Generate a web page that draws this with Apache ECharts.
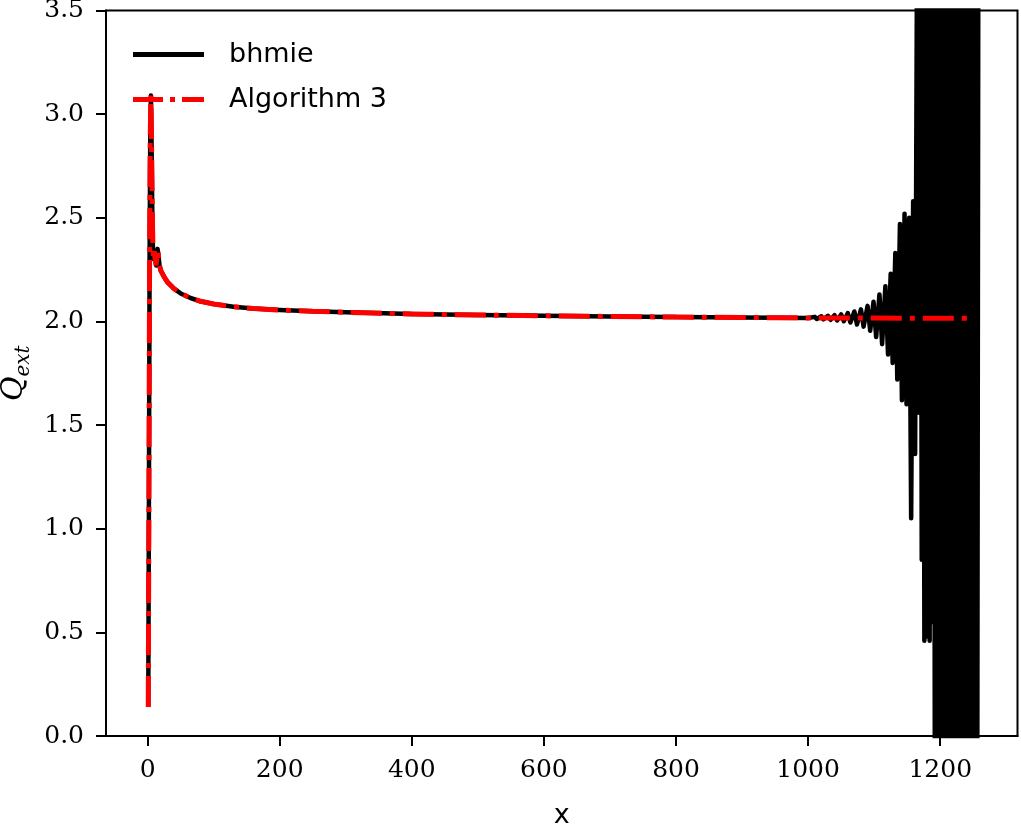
<!DOCTYPE html>
<html lang="en">

<head>
    <meta charset="UTF-8">
    <title>Q_ext</title>
    <style>
        html, body { margin: 0; padding: 0; background: #fff; }
        #main { width: 1021px; height: 824px; }
    </style>
</head>

<body>
    <div id="main"></div>
    <script src="https://cdn.jsdelivr.net/npm/echarts@6/dist/echarts.min.js"></script>
    <script>
        // bhmie: smooth part, then the unstable oscillations past x ~ 1000
        const bhmieX = [1, 2, 3, 4, 5, 6, 7, 8, 9, 10, 11, 12, 13, 14, 15, 16, 18, 20, 25, 30,
            40, 50, 65, 80, 100, 130, 160, 200, 250, 300, 400, 500, 600, 700, 800, 900, 1000,
            1010, 1013, 1020, 1023, 1030, 1034, 1040, 1044, 1050, 1054, 1060, 1064, 1070, 1074,
            1080, 1084, 1090, 1094, 1099, 1103, 1108, 1112, 1117, 1121, 1125, 1128, 1132, 1135,
            1139, 1142, 1146, 1149, 1153, 1156, 1159, 1162, 1165, 1168, 1170, 1172, 1174, 1176,
            1178, 1180, 1182, 1184, 1186, 1188,
            1190, 1192, 1194, 1196, 1198, 1200, 1202, 1204, 1206, 1208, 1210, 1212, 1214, 1216,
            1218, 1220, 1222, 1224, 1226, 1228, 1230, 1232, 1234, 1236, 1238, 1240, 1242, 1244,
            1246, 1248, 1250, 1252, 1254, 1256, 1258];
        const bhmieY = [0.14, 1.15, 2.30, 2.90, 3.09, 2.85, 2.55, 2.36, 2.30, 2.34, 2.31, 2.29, 2.27, 2.32, 2.35, 2.33, 2.27, 2.245, 2.215, 2.19,
            2.158, 2.135, 2.113, 2.097, 2.084, 2.071, 2.062, 2.055, 2.049, 2.044, 2.036, 2.031, 2.027, 2.024, 2.021, 2.019, 2.017,
            2.022, 2.012, 2.025, 2.010, 2.027, 2.008, 2.030, 2.005, 2.034, 2.001, 2.040, 1.995, 2.048, 1.985,
            2.058, 1.975, 2.075, 1.955, 2.095, 1.925, 2.13, 1.89, 2.17, 1.84, 2.23, 1.80, 2.33, 1.72,
            2.47, 1.62, 2.52, 1.60, 2.50, 1.05, 2.58, 1.36, 3.9, 1.56, 4.6, 0.85, 4.6, 0.46,
            4.6, 0.48, 4.6, 0.46, 4.6, 0.55,
            4.6, -0.6, 4.6, -0.6, 4.6, -0.6, 4.6, -0.6, 4.6, -0.6, 4.6, -0.6, 4.6, -0.6,
            4.6, -0.6, 4.6, -0.6, 4.6, -0.6, 4.6, -0.6, 4.6, -0.6, 4.6, -0.6, 4.6, -0.6,
            4.6, -0.6, 4.6, -0.6, 4.6, -0.6, 4.6];

        // Algorithm 3: same curve, stays flat where bhmie breaks down
        const algX = [1, 2, 3, 4, 5, 6, 7, 8, 9, 10, 11, 12, 13, 14, 15, 16, 18, 20, 25, 30,
            40, 50, 65, 80, 100, 130, 160, 200, 250, 300, 400, 500, 600, 700, 800, 900, 1000,
            1050, 1100, 1150, 1200, 1250];
        const algY = [0.14, 1.15, 2.30, 2.90, 3.09, 2.85, 2.55, 2.36, 2.30, 2.34, 2.31, 2.29, 2.27, 2.32, 2.35, 2.33, 2.27, 2.245, 2.215, 2.19,
            2.158, 2.135, 2.113, 2.097, 2.084, 2.071, 2.062, 2.055, 2.049, 2.044, 2.036, 2.031, 2.027, 2.024, 2.021, 2.019, 2.017,
            2.016, 2.016, 2.015, 2.015, 2.015];

        const xTicks = [0, 200, 400, 600, 800, 1000, 1200];

        function zip(xs, ys) {
            let out = [];
            for (let i = 0; i < xs.length; i++) out.push([xs[i], ys[i]]);
            return out;
        }

        const serif = 'DejaVu Serif';
        const sans = 'DejaVu Sans';

        let chart = echarts.init(document.getElementById('main'));
        chart.setOption({
            backgroundColor: '#fff',
            animation: false,
            grid: {
                left: 106, right: 3.5, top: 10.5, bottom: 88,
                outerBoundsMode: 'none',
                show: true, borderColor: '#000', borderWidth: 2
            },
            legend: {
                orient: 'vertical',
                left: 133, top: 41, padding: 0,
                itemWidth: 71, itemHeight: 5, itemGap: 18,
                textStyle: { fontFamily: sans, fontSize: 27, color: '#000', padding: [0, 0, 0, 20] },
                data: [
                    { name: 'bhmie', icon: 'path://M0,0H71V5H0Z' },
                    { name: 'Algorithm 3', icon: 'path://M0,0H30V5H0Z M37,0H42V5H37Z M49,0H71V5H49Z' }
                ]
            },
            xAxis: {
                type: 'value',
                min: -63, max: 1317,
                name: 'x', nameLocation: 'middle', nameGap: 66,
                nameTextStyle: { fontFamily: sans, fontSize: 27, color: '#000' },
                axisLine: { onZero: false, lineStyle: { color: '#000', width: 2 } },
                axisTick: { length: 10, lineStyle: { color: '#000', width: 2 }, customValues: xTicks },
                axisLabel: {
                    fontFamily: serif, fontSize: 25, color: '#000', margin: 22, customValues: xTicks,
                    formatter: function (v) { return String(v); }
                },
                splitLine: { show: false }
            },
            yAxis: {
                type: 'value',
                min: 0, max: 3.5, interval: 0.5,
                name: '{q|Q}{s|ext}', nameLocation: 'middle', nameGap: 54,
                nameTextStyle: {
                    rich: {
                        q: { fontFamily: serif, fontStyle: 'italic', fontSize: 30, color: '#000', lineHeight: 38, verticalAlign: 'middle' },
                        s: { fontFamily: serif, fontStyle: 'italic', fontSize: 20, color: '#000', lineHeight: 20, verticalAlign: 'bottom' }
                    }
                },
                axisLine: { show: true, onZero: false, lineStyle: { color: '#000', width: 2 } },
                axisTick: { show: true, length: 10, lineStyle: { color: '#000', width: 2 } },
                axisLabel: {
                    fontFamily: serif, fontSize: 25, color: '#000', margin: 22,
                    formatter: function (v) { return v.toFixed(1); }
                },
                splitLine: { show: false }
            },
            series: [
                {
                    name: 'bhmie',
                    type: 'line',
                    data: zip(bhmieX, bhmieY),
                    symbol: 'none',
                    clip: true,
                    lineStyle: { color: '#000', width: 4.5, join: 'round' },
                    itemStyle: { color: '#000' }
                },
                {
                    name: 'Algorithm 3',
                    type: 'line',
                    data: zip(algX, algY),
                    symbol: 'none',
                    clip: true,
                    lineStyle: { color: '#ff0000', width: 5, type: [31, 8, 5, 8] },
                    itemStyle: { color: '#ff0000' }
                }
            ]
        });
    </script>
</body>

</html>
